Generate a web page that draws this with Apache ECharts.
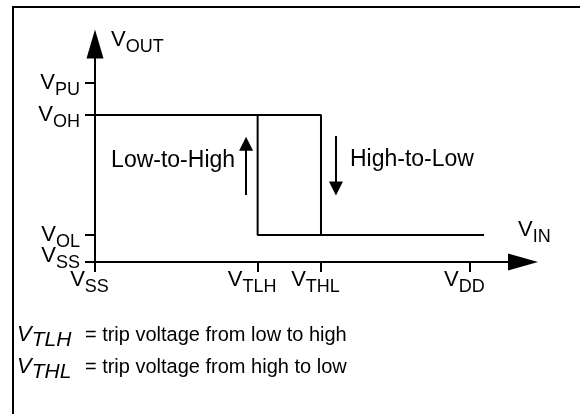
<!DOCTYPE html>
<html>
<head>
<meta charset="utf-8">
<script src="https://cdn.jsdelivr.net/npm/echarts@6/dist/echarts.min.js"></script>
<style>
html, body { margin: 0; padding: 0; background: #fff; }
#chart { width: 580px; height: 414px; }
</style>
</head>
<body>
<div id="chart"></div>
<script>
// values in axis units (0..100 on both axes)
var xTicks = [0, 38.0, 52.8, 87.6];
var xTickNames = ['SS', 'TLH', 'THL', 'DD'];
var yTicks = [0, 12.4, 67.4, 82.1];
var yTickNames = ['SS', 'OL', 'OH', 'PU'];

var highToLow = [[0, 67.4], [52.8, 67.4], [52.8, 12.4], [90.9, 12.4]];
var lowToHigh = [[52.8, 12.4], [38.0, 12.4], [38.0, 67.4]];
var upArrow = [[35.3, 30.7], [35.3, 54.3]];
var downArrow = [[56.3, 57.8], [56.3, 33.7]];
var notes = ['Low-to-High', 'High-to-Low'];
var noteAnchors = [[35.3, 46.3], [56.3, 46.8]];
var footnotes = [
	['TLH', ' = trip voltage from low to high'],
	['THL', ' = trip voltage from high to low']
];

var font = 'Liberation Sans, Arial, sans-serif';
// subscripts are shifted down with top padding
var rich = {
	v: { fontSize: 22, lineHeight: 20, color: '#000', fontFamily: font },
	s: { fontSize: 18, lineHeight: 20, color: '#000', fontFamily: font, padding: [14, 0, 0, 0] },
	vu: { fontSize: 22, lineHeight: 20, color: '#000', fontFamily: font, padding: [0, 0, 12, 0] },
	su: { fontSize: 18, lineHeight: 20, color: '#000', fontFamily: font, padding: [2, 0, 0, 0] }
};

var myChart = echarts.init(document.getElementById('chart'));

var frame = [
	{ type: 'line', shape: { x1: 12, y1: 7, x2: 580, y2: 7 }, style: { stroke: '#000', lineWidth: 2 } },
	{ type: 'line', shape: { x1: 13, y1: 6, x2: 13, y2: 414 }, style: { stroke: '#000', lineWidth: 2 } }
];
for (var i = 0; i < footnotes.length; i++) {
	frame.push({
		type: 'text',
		x: 17,
		y: 335 + i * 32,
		style: {
			text: '{vi|V}{si|' + footnotes[i][0] + '}{t|' + footnotes[i][1] + '}',
			verticalAlign: 'middle',
			align: 'left',
			rich: {
				vi: { fontSize: 22, fontStyle: 'italic', fill: '#000', fontFamily: font },
				si: { fontSize: 21, fontStyle: 'italic', fill: '#000', fontFamily: font, padding: [10, 8, 0, 0] },
				t: { fontSize: 20, fill: '#000', fontFamily: font }
			}
		}
	});
}

myChart.setOption({
	animation: false,
	grid: { left: 95, right: 57, top: 44, bottom: 152 },
	graphic: frame,
	xAxis: {
		type: 'value',
		min: 0,
		max: 100,
		splitLine: { show: false },
		axisLine: {
			show: true,
			lineStyle: { color: '#000', width: 2 },
			symbol: ['none', 'triangle'],
			symbolSize: [17, 30]
		},
		axisTick: {
			show: true,
			length: 10,
			lineStyle: { color: '#000', width: 2 },
			customValues: xTicks
		},
		axisLabel: {
			customValues: xTicks,
			showMinLabel: true,
			margin: 8,
			padding: [0, 11, 0, 0],
			formatter: function(v) {
				return '{v|V}{s|' + xTickNames[xTicks.indexOf(v)] + '}';
			},
			rich: rich
		},
		name: '{v|V}{s|IN}',
		nameLocation: 'end',
		nameGap: -5,
		nameTextStyle: {
			align: 'left',
			verticalAlign: 'middle',
			padding: [0, 0, 64, 0],
			rich: rich
		}
	},
	yAxis: {
		type: 'value',
		min: 0,
		max: 100,
		splitLine: { show: false },
		axisLine: {
			show: true,
			lineStyle: { color: '#000', width: 2 },
			symbol: ['none', 'triangle'],
			symbolSize: [17, 29]
		},
		axisTick: {
			show: true,
			length: 10,
			lineStyle: { color: '#000', width: 2 },
			customValues: yTicks
		},
		axisLabel: {
			// the origin label (V_SS) is placed by a markPoint below
			customValues: yTicks.slice(1),
			margin: 15,
			formatter: function(v) {
				return '{v|V}{s|' + yTickNames[yTicks.indexOf(v)] + '}';
			},
			rich: rich
		},
		name: '{v|V}{s|OUT}',
		nameLocation: 'end',
		nameGap: 4,
		nameTextStyle: {
			align: 'left',
			verticalAlign: 'middle',
			padding: [0, 0, 0, 16],
			rich: rich
		}
	},
	series: [
		{
			type: 'line',
			data: highToLow,
			symbol: 'none',
			lineStyle: { color: '#000', width: 2 },
			markPoint: {
				silent: true,
				symbol: 'circle',
				symbolSize: 0,
				label: {
					show: true,
					position: 'left',
					distance: 15,
					formatter: '{vu|V}{su|' + yTickNames[0] + '}',
					rich: rich
				},
				data: [{ coord: [0, yTicks[0]] }]
			}
		},
		{
			type: 'line',
			data: lowToHigh,
			symbol: 'none',
			lineStyle: { color: '#000', width: 2 },
			markLine: {
				silent: true,
				symbol: ['none', 'triangle'],
				symbolSize: 14,
				label: { show: false },
				lineStyle: { color: '#000', width: 2, type: 'solid' },
				data: [
					[{ coord: upArrow[0] }, { coord: upArrow[1] }],
					[{ coord: downArrow[0] }, { coord: downArrow[1] }]
				]
			},
			markPoint: {
				silent: true,
				symbol: 'circle',
				symbolSize: 0,
				label: { show: true, color: '#000', fontSize: 23, fontFamily: font },
				data: [
					{ coord: noteAnchors[0], label: { position: 'left', distance: 11, formatter: notes[0] } },
					{ coord: noteAnchors[1], label: { position: 'right', distance: 14, formatter: notes[1] } }
				]
			}
		}
	]
});
</script>
</body>
</html>
